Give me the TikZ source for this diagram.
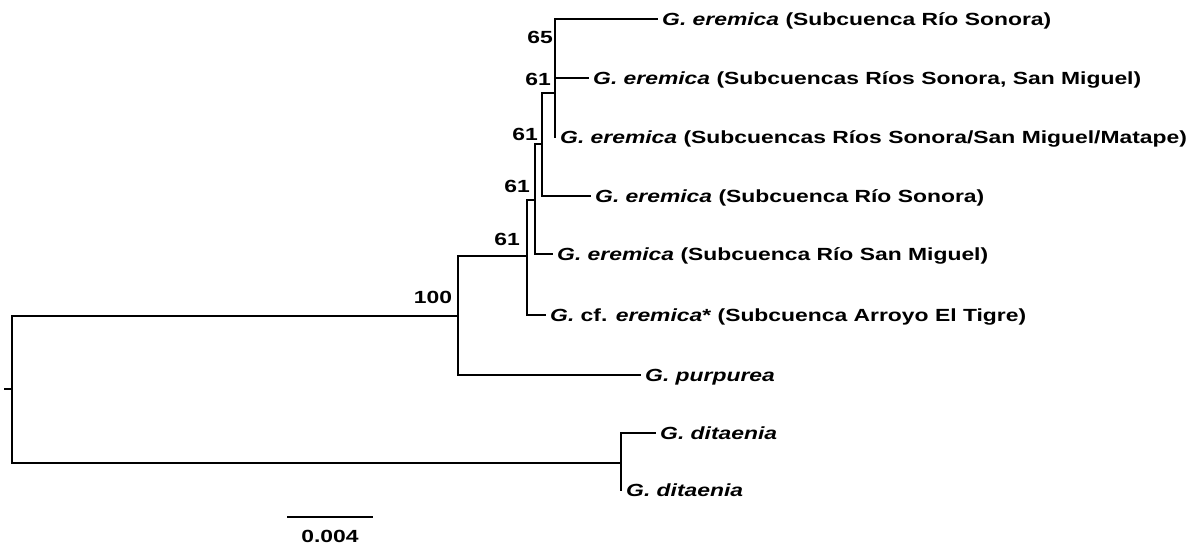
\documentclass[tikz,border=0pt]{standalone}
\usepackage{fontspec}
\setmainfont{Liberation Sans}
\newfontfamily\labfont[FakeStretch=1.3]{Liberation Sans}
\tikzset{
  br/.style={line width=1.7pt, black, line cap=rect},
  leaf/.style={anchor=west, inner xsep=5pt, inner ysep=0pt, text height=12.6pt, text depth=0pt,
    font=\labfont\bfseries\fontsize{17.6}{20}\selectfont},
  boot/.style={inner sep=0pt, text height=12.6pt, text depth=0pt,
    font=\labfont\bfseries\fontsize{17.6}{20}\selectfont}
}
\begin{document}
\begin{tikzpicture}[x=1pt,y=-1pt]
\useasboundingbox (0,0) rectangle (1195,548);
% internal nodes
\coordinate (tick) at (5,389);
\coordinate (root) at (12,389);
\coordinate (n100) at (458,316);
\coordinate (n61a) at (527,256);
\coordinate (n61b) at (535,200);
\coordinate (n61c) at (542,144);
\coordinate (n61d) at (555,93);
\coordinate (nd) at (621,463);
% tips
\coordinate (t1) at (657,19);
\coordinate (t2) at (588,78);
\coordinate (t3) at (555,137);
\coordinate (t4) at (590,196);
\coordinate (t5) at (552,254);
\coordinate (t6) at (545,315);
\coordinate (t7) at (640,375);
\coordinate (t8) at (655,433);
\coordinate (t9) at (621,490);
% leaf labels
\node[leaf] (l1) at (t1) {\itshape G. eremica\/ \upshape(Subcuenca Río Sonora)};
\node[leaf] (l2) at (t2) {\itshape G. eremica\/ \upshape(Subcuencas Ríos Sonora, San Miguel)};
\node[leaf] (l3) at (t3) {\itshape G. eremica\/ \upshape(Subcuencas Ríos Sonora/San Miguel/Matape)};
\node[leaf] (l4) at (t4) {\itshape G. eremica\/ \upshape(Subcuenca Río Sonora)};
\node[leaf] (l5) at (t5) {\itshape G. eremica\/ \upshape(Subcuenca Río San Miguel)};
\node[leaf] (l6) at (t6) {\itshape G. \upshape cf. \itshape eremica\/\upshape* (Subcuenca Arroyo El Tigre)};
\node[leaf] (l7) at (t7) {\itshape G. purpurea};
\node[leaf] (l8) at (t8) {\itshape G. ditaenia};
\node[leaf] (l9) at (t9) {\itshape G. ditaenia};
% branches
\draw[br] (tick) -- (root);
\draw[br] (root) |- (n100);
\draw[br] (root) |- (nd);
\draw[br] (n100) |- (n61a);
\draw[br] (n100) |- (t7);
\draw[br] (n61a) |- (n61b);
\draw[br] (n61a) |- (t6);
\draw[br] (n61b) |- (n61c);
\draw[br] (n61b) |- (t5);
\draw[br] (n61c) |- (n61d);
\draw[br] (n61c) |- (t4);
\draw[br] (n61d) |- (t1);
\draw[br] (n61d) |- (t2);
\draw[br] (n61d) -- (t3);
\draw[br] (nd) |- (t8);
\draw[br] (nd) -- (t9);
% bootstrap values
\node[boot] (b65) at (540,37) {65};
\node[boot] (b61a) at (538,79) {61};
\node[boot] (b61b) at (525,134) {61};
\node[boot] (b61c) at (517,186) {61};
\node[boot] (b61d) at (507,239) {61};
\node[boot] (b100) at (433,297) {100};
% scale bar
\coordinate (sbl) at (288,517);
\coordinate (sbr) at (372,517);
\draw[br] (sbl) -- (sbr);
\node[boot] (sblab) at (330,536) {0.004};
\end{tikzpicture}
\end{document}
